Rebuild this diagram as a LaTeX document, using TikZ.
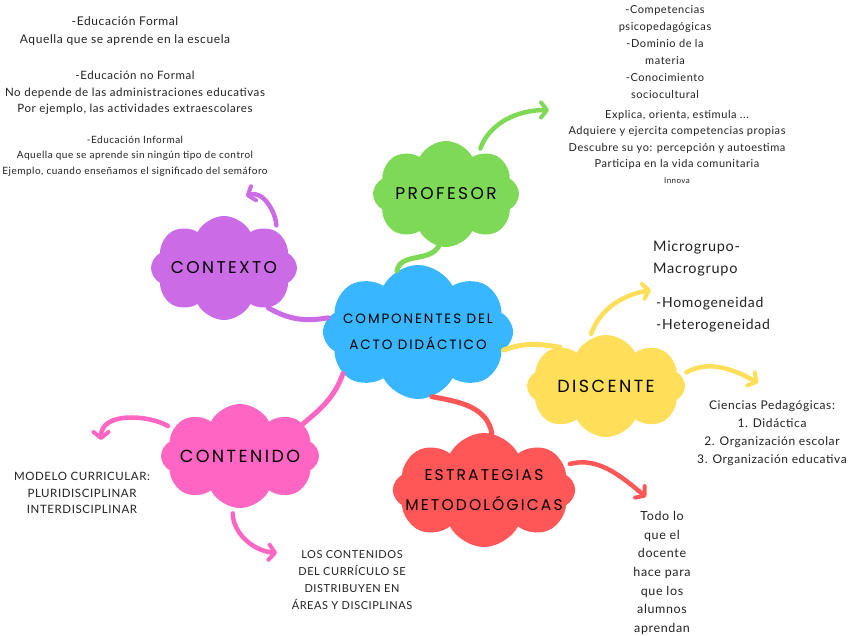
\documentclass[tikz,border=0pt]{standalone}
\usepackage{fontspec}
\setmainfont{Lato}[LetterSpace=5]
\newfontfamily\headfont[LetterSpace=14]{Poppins}
\usetikzlibrary{shapes.symbols,arrows.meta}
\definecolor{cblue}{HTML}{38B6FF}
\definecolor{cgreen}{HTML}{7ED957}
\definecolor{cpurple}{HTML}{CB6CE6}
\definecolor{cyellow}{HTML}{FFDE59}
\definecolor{cpink}{HTML}{FF66C4}
\definecolor{cred}{HTML}{FF5757}
\definecolor{ink}{HTML}{222222}
\tikzset{
  bubble/.style={cloud, cloud puffs=8, cloud puff arc=125, cloud ignores aspect,
    inner xsep=-14pt, inner ysep=0pt, align=center, text=black},
  link/.style={line width=5pt, line cap=round},
  arrowlink/.style={line width=4.5pt, line cap=round, shorten <=6pt,
    -{Straight Barb[length=6pt,width=15pt,line width=4pt,round]}},
  note/.style={align=center, text=ink, inner sep=0pt}
}
\begin{document}
\begin{tikzpicture}[x=1pt,y=1pt]
\useasboundingbox (0,0) rectangle (848,-636);
\fill[white] (0,0) rectangle (848,-636);

% clouds
\node[bubble, fill=cblue, minimum width=190pt, minimum height=134pt,
  font=\headfont\fontsize{13.5}{26}\selectfont] (center) at (418,-332) {COMPONENTES DEL\\ACTO DIDÁCTICO};
\node[bubble, fill=cgreen, minimum width=146pt, minimum height=106pt,
  font=\headfont\fontsize{17}{18}\selectfont] (prof) at (446,-194) {PROFESOR};
\node[bubble, fill=cpurple, minimum width=146pt, minimum height=104pt,
  font=\headfont\fontsize{17}{18}\selectfont] (ctx) at (224,-268) {CONTEXTO};
\node[bubble, fill=cyellow, minimum width=158pt, minimum height=102pt,
  font=\headfont\fontsize{17.5}{18}\selectfont] (dis) at (606,-386) {DISCENTE};
\node[bubble, fill=cpink, minimum width=158pt, minimum height=104pt,
  font=\headfont\fontsize{17.5}{18}\selectfont] (con) at (240,-456) {CONTENIDO};
\node[bubble, fill=cred, minimum width=170pt, minimum height=114pt,
  font=\headfont\fontsize{15.5}{30}\selectfont] (est) at (484,-490) {ESTRATEGIAS\\METODOLÓGICAS};

% free arrow ends
\coordinate (profend) at (549,-110);
\coordinate (ctxend) at (246,-196);
\coordinate (disupend) at (651,-290);
\coordinate (disrightend) at (758,-383);
\coordinate (conleftend) at (101,-440);
\coordinate (condownend) at (277,-553);
\coordinate (estend) at (646,-497);

% center links
\draw[link, cgreen] (center.109) to[out=80, in=240] (prof.262);
\draw[link, cpurple] (center.171) to[out=190, in=330] (ctx.318);
\draw[link, cyellow] (center.348) to[out=20, in=170] (dis.140);
\draw[link, cpink] (center.209) to[out=250, in=40] (con.27);
\draw[link, cred] (center.282) to[out=-10, in=100] (est.82);

% outgoing arrows
\draw[arrowlink, cgreen] (prof.51) to[out=70, in=180] (profend);
\draw[arrowlink, cpurple] (ctx.35) to[out=90, in=20] (ctxend);
\draw[arrowlink, cyellow] (dis.110) to[out=70, in=190] (disupend);
\draw[arrowlink, cyellow] (dis.8) to[out=30, in=150] (disrightend);
\draw[arrowlink, cpink] (con.158) to[out=150, in=90] (conleftend);
\draw[arrowlink, cpink] (con.262) to[out=-90, in=175] (condownend);
\draw[arrowlink, cred] (est.17) to[out=15, in=140] (estend);

% texts
\node[note, font=\fontsize{12}{18}\selectfont] (t1) at (125,-31)
  {-Educación Formal\\Aquella que se aprende en la escuela};
\node[note, font=\fontsize{11.5}{16.5}\selectfont] (t2) at (135,-93)
  {-Educación no Formal\\No depende de las administraciones educativas\\Por ejemplo, las actividades extraescolares};
\node[note, font=\fontsize{10}{15.5}\selectfont] (t3) at (135,-156)
  {-Educación Informal\\Aquella que se aprende sin ningún tipo de control\\Ejemplo, cuando enseñamos el significado del semáforo};

\node[note, font=\fontsize{11}{17}\selectfont] (t4) at (665,-52)
  {-Competencias\\psicopedagógicas\\-Dominio de la\\materia\\-Conocimiento\\sociocultural};
\node[note, font=\fontsize{11}{16.2}\selectfont] (t5) at (677,-147)
  {Explica, orienta, estimula ...\\Adquiere y ejercita competencias propias\\Descubre su yo: percepción y autoestima\\Participa en la vida comunitaria\\{\fontsize{8}{10}\selectfont Innova}};

\node[note, align=left, anchor=west, font=\fontsize{14.5}{22}\selectfont] (t6) at (653,-259)
  {Microgrupo-\\Macrogrupo};
\node[note, align=left, anchor=west, font=\fontsize{14}{22}\selectfont] (t7) at (656,-315)
  {-Homogeneidad\\-Heterogeneidad};
\node[note, font=\fontsize{12}{18}\selectfont] (t8) at (772,-433)
  {Ciencias Pedagógicas:\\1. Didáctica\\2. Organización escolar\\3. Organización educativa};

\node[note, font=\fontsize{11.5}{16.5}\selectfont] (t9) at (82,-493)
  {MODELO CURRICULAR:\\PLURIDISCIPLINAR\\INTERDISCIPLINAR};
\node[note, font=\fontsize{11}{17}\selectfont] (t10) at (352,-580)
  {LOS CONTENIDOS\\DEL CURRÍCULO SE\\DISTRIBUYEN EN\\ÁREAS Y DISCIPLINAS};
\node[note, font=\fontsize{12.5}{18.6}\selectfont] (t11) at (662,-573)
  {Todo lo\\que el\\docente\\hace para\\que los\\alumnos\\aprendan};
\end{tikzpicture}
\end{document}
